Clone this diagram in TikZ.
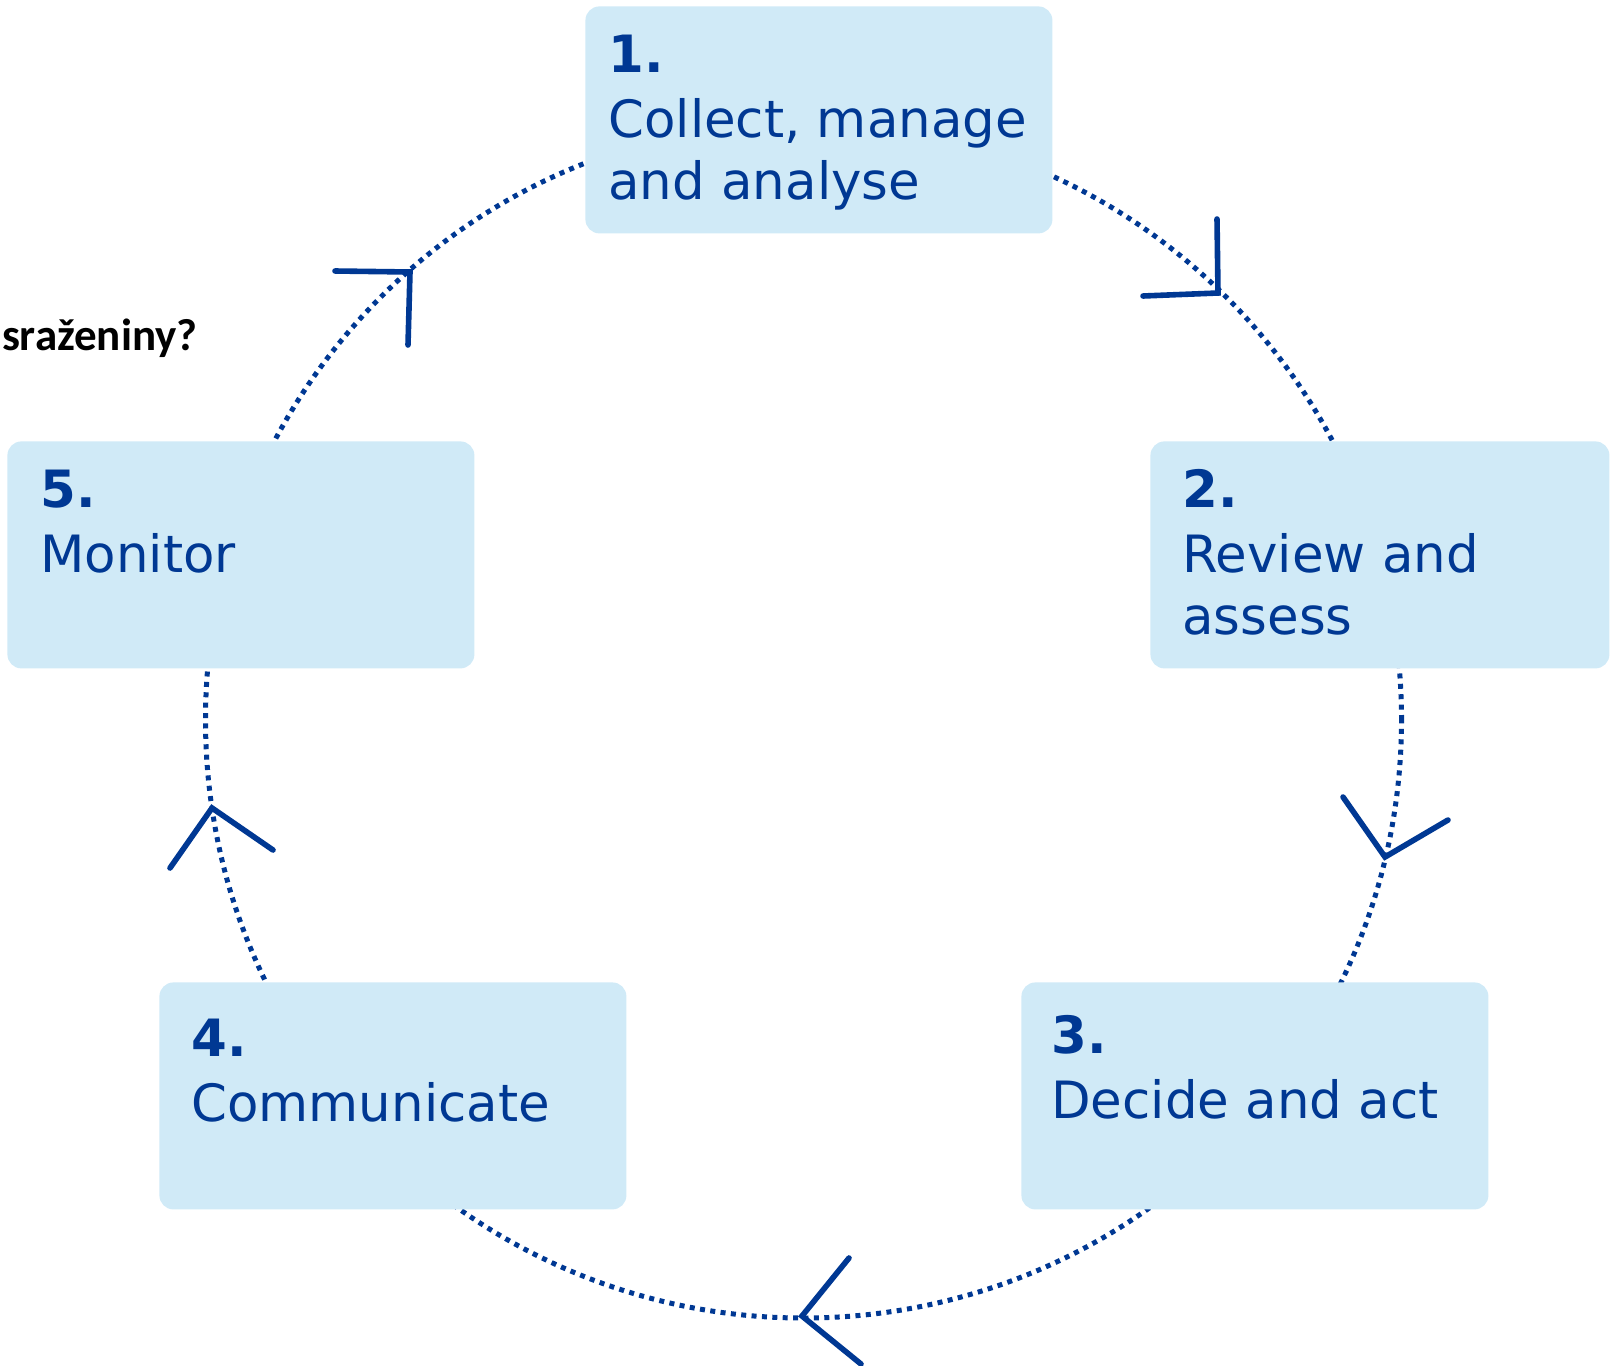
\documentclass[tikz,border=0pt]{standalone}
\usepackage{fontspec}
\setmainfont{DejaVu Sans}
\newfontfamily\carlito{Carlito}
\definecolor{ink}{RGB}{0,56,147}
\definecolor{boxfill}{RGB}{208,234,247}
\begin{document}
\begin{tikzpicture}[x=0.5pt,y=-0.5pt,
  stagebox/.style={draw=none, fill=boxfill, rounded corners=7pt, minimum width=233.5pt, minimum height=113.5pt, inner sep=0pt, anchor=north west},
  stagetext/.style={text=ink, inner sep=0pt, anchor=base west, font=\fontsize{25.7pt}{31pt}\selectfont},
  ring/.style={draw=ink, line width=2.5pt, dash pattern=on 2.5pt off 2.7pt},
  chevron/.style={draw=ink, line width=2.8pt, line cap=round, line join=miter}]
\useasboundingbox (0,0) rectangle (1610,1365);
\coordinate (c) at (803.5,720);
\draw[ring] (c) circle[radius=299pt];

\node[stagebox] (b1) at (585,6) {};
\node[stagebox, minimum width=229.5pt] (b2) at (1150,441) {};
\node[stagebox] (b3) at (1021,982) {};
\node[stagebox] (b4) at (159,982) {};
\node[stagebox] (b5) at (7,441) {};

\node[stagetext] (t1) at (608,72) {\parbox[t]{300pt}{\textbf{1.}\\[1.5pt]Collect, manage\\and analyse}};
\node[stagetext] (t2) at (1182,507) {\parbox[t]{300pt}{\textbf{2.}\\[1.5pt]Review and\\assess}};
\node[stagetext] (t3) at (1051,1053) {\parbox[t]{300pt}{\textbf{3.}\\[1.5pt]Decide and act}};
\node[stagetext] (t4) at (191,1056) {\parbox[t]{300pt}{\textbf{4.}\\[1.5pt]Communicate}};
\node[stagetext] (t5) at (40,507) {\parbox[t]{300pt}{\textbf{5.}\\[1.5pt]Monitor}};

\node[anchor=base east, inner sep=0pt, font=\carlito\bfseries\fontsize{22.5pt}{27pt}\selectfont] (q) at (198,350) {sraženiny?};

\coordinate (h1) at (410,272);
\coordinate (h2) at (1218,293);
\coordinate (h3) at (1385,857);
\coordinate (h4) at (802,1316);
\coordinate (h5) at (212,808);
\draw[chevron] (335,271) -- (h1) -- (408,345);
\draw[chevron] (1217,219) -- (h2) -- (1143,296);
\draw[chevron] (1343,797) -- (h3) -- (1448,820);
\draw[chevron] (849,1258) -- (h4) -- (861,1364);
\draw[chevron] (170,868) -- (h5) -- (273,850);
\end{tikzpicture}
\end{document}
